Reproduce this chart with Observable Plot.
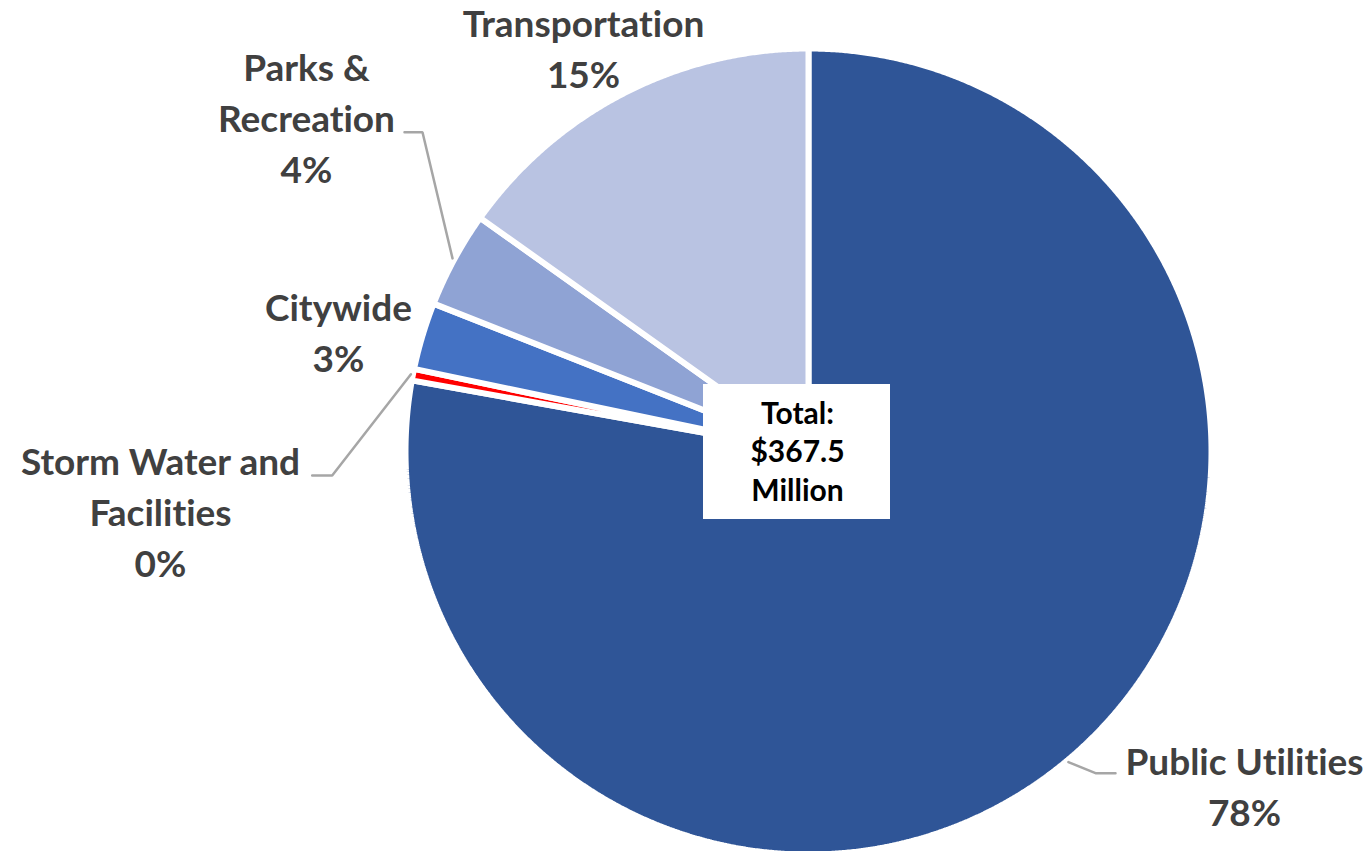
<!DOCTYPE html>
<html><head><meta charset="utf-8">
<script src="https://cdn.jsdelivr.net/npm/d3@7"></script>
<script src="https://cdn.jsdelivr.net/npm/@observablehq/plot@0.6"></script>
<style>html,body{margin:0;padding:0;background:#fff;overflow:hidden} svg text{font-variant-ligatures:none;font-feature-settings:"liga" 0}</style>
</head><body>
<div id="chart"></div>
<script>
// ---- data ----
const categories = ["Public Utilities", "Storm Water and Facilities", "Citywide", "Parks & Recreation", "Transportation"];
const labelText = ["Public Utilities", "Storm Water and\nFacilities", "Citywide", "Parks &\nRecreation", "Transportation"];
const valuesMillions = [286.0, 1.7, 9.9, 14.2, 55.7];
const colors = ["#2F5597", "#FF0000", "#4472C4", "#8FA3D4", "#B9C3E2"];
const totalLabel = ["Total:", "$367.5", "Million"];

// ---- layout (pixel offsets from pie centre) ----
const R = 403;
const labelLayout = {
  "Public Utilities": {dx: 436, dy: 332.2, leader: [[287, 321.7], [307, 321.7]]},
  "Storm Water and Facilities": {dx: -648, dy: 58.4, leader: [[-476.3, 24], [-496.3, 24]]},
  "Citywide": {dx: -470, dy: -121.3, leader: null},
  "Parks & Recreation": {dx: -502, dy: -336.3, leader: [[-386, -319.3], [-404, -319.3]]},
  "Transportation": {dx: -225, dy: -405.8, leader: null}
};

const total = d3.sum(valuesMillions);
const arcs = d3.pie().sort(null).value(d => d.value)(
  categories.map((name, i) => ({name, value: valuesMillions[i], label: labelText[i]}))
);

const slicePts = [];
for (const a of arcs) {
  const name = a.data.name;
  slicePts.push({name, x: 0, y: 0});
  const n = Math.max(2, Math.ceil((a.endAngle - a.startAngle) / (Math.PI / 720)));
  for (let k = 0; k <= n; k++) {
    const t = a.startAngle + (a.endAngle - a.startAngle) * k / n;
    slicePts.push({name, x: R * Math.sin(t), y: -R * Math.cos(t)});
  }
  slicePts.push({name, x: 0, y: 0});
}

const labels = [];
const leaderPts = [];
for (const a of arcs) {
  const L = labelLayout[a.data.name];
  labels.push({x: L.dx, y: L.dy, text: `${a.data.label}\n${Math.round(a.data.value / total * 100)}%`});
  if (L.leader) {
    const mid = (a.startAngle + a.endAngle) / 2;
    leaderPts.push({name: a.data.name, x: (R + 2) * Math.sin(mid), y: -(R + 2) * Math.cos(mid)});
    for (const [x, y] of L.leader) leaderPts.push({name: a.data.name, x, y});
  }
}

const chart = Plot.plot({
  width: 1370,
  height: 851,
  marginLeft: 408,
  marginRight: 162,
  marginTop: 51,
  marginBottom: 0,
  x: {domain: [-400, 400], axis: null},
  y: {domain: [-400, 400], axis: null, reverse: true},
  color: {domain: categories, range: colors},
  style: {background: "white", overflow: "visible"},
  marks: [
    Plot.line(slicePts, {x: "x", y: "y", z: "name", fill: "name", stroke: "white", strokeWidth: 6, strokeLinejoin: "miter", curve: "linear"}),
    Plot.line(leaderPts, {x: "x", y: "y", z: "name", stroke: "#A6A6A6", strokeWidth: 2.5, strokeLinejoin: "miter"}),
    Plot.rect([0], {x1: -105, x2: 82, y1: -67, y2: 68, fill: "white"}),
    Plot.text(labels, {x: "x", y: "y", text: "text", fontSize: 37, fontWeight: "bold", fontFamily: "Lato", fill: "#404040", lineHeight: 51 / 37}),
    Plot.text([totalLabel.join("\n")], {x: -11, y: -1.6, text: d => d, fontSize: 30, fontWeight: "bold", fontFamily: "Lato", fill: "#000", lineHeight: 38.5 / 30})
  ]
});
document.getElementById("chart").appendChild(chart);
</script>
</body></html>
